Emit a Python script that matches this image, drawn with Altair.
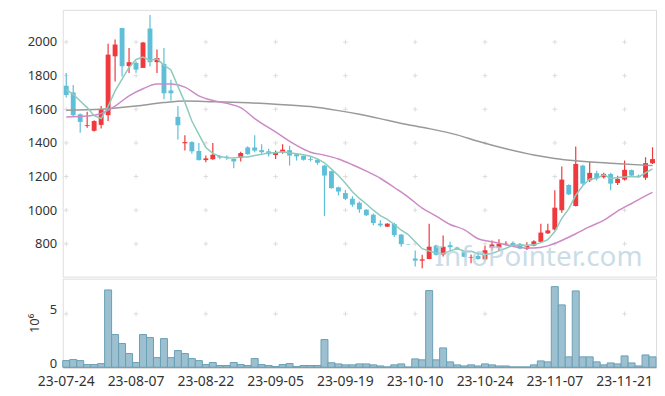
import altair as alt
import pandas as pd

dates = [
    "23-07-24", "23-07-25", "23-07-26", "23-07-27", "23-07-28", "23-07-31",
    "23-08-01", "23-08-02", "23-08-03", "23-08-04",
    "23-08-07", "23-08-08", "23-08-09", "23-08-10", "23-08-11",
    "23-08-14", "23-08-16", "23-08-17", "23-08-18",
    "23-08-21", "23-08-22", "23-08-23", "23-08-24", "23-08-25",
    "23-08-28", "23-08-29", "23-08-30", "23-08-31", "23-09-01",
    "23-09-04", "23-09-05", "23-09-06", "23-09-07", "23-09-08",
    "23-09-11", "23-09-12", "23-09-13", "23-09-14", "23-09-15",
    "23-09-18", "23-09-19", "23-09-20", "23-09-21", "23-09-22",
    "23-09-25", "23-09-26", "23-09-27",
    "23-10-04", "23-10-05", "23-10-06",
    "23-10-10", "23-10-11", "23-10-12", "23-10-13",
    "23-10-16", "23-10-17", "23-10-18", "23-10-19", "23-10-20",
    "23-10-23", "23-10-24", "23-10-25", "23-10-26", "23-10-27",
    "23-10-30", "23-10-31", "23-11-01", "23-11-02", "23-11-03",
    "23-11-06", "23-11-07", "23-11-08", "23-11-09", "23-11-10",
    "23-11-13", "23-11-14", "23-11-15", "23-11-16", "23-11-17",
    "23-11-20", "23-11-21", "23-11-22", "23-11-23", "23-11-24",
    "23-11-27",
]

opens = [1740, 1700, 1570, 1500, 1472, 1507, 1565, 1915, 2083, 1857,
         1876, 1846, 2080, 1880, 1870, 1712, 1555, 1398, 1405, 1352,
         1298, 1303, 1322, 1318, 1305, 1310, 1373, 1373, 1357, 1350,
         1328, 1344, 1357, 1333, 1323, 1305, 1300, 1265, 1232, 1136,
         1102, 1068, 1044, 1003, 973, 920, 902, 918, 855, 797,
         713, 700, 710, 790, 737, 792, 778, 755, 718, 728,
         708, 777, 777, 800, 806, 800, 770, 790, 812, 862,
         885, 1000, 1150, 1025, 1265, 1178, 1220, 1196, 1215, 1162,
         1182, 1238, 1205, 1193, 1279]
highs = [1815, 1745, 1575, 1585, 1535, 1620, 1990, 2015, 2085, 1965,
         1885, 2000, 2160, 1955, 1965, 1775, 1620, 1445, 1410, 1400,
         1325, 1400, 1328, 1325, 1308, 1348, 1380, 1445, 1392, 1365,
         1355, 1392, 1383, 1340, 1325, 1320, 1305, 1270, 1235, 1140,
         1120, 1083, 1052, 1005, 980, 940, 922, 925, 858, 798,
         760, 735, 920, 795, 850, 812, 782, 758, 737, 752,
         788, 820, 828, 815, 815, 805, 810, 822, 920, 920,
         1118, 1260, 1155, 1378, 1270, 1290, 1235, 1222, 1222, 1205,
         1295, 1242, 1212, 1315, 1374]
lows = [1670, 1560, 1460, 1490, 1468, 1485, 1530, 1765, 1795, 1815,
        1817, 1845, 1855, 1815, 1660, 1650, 1420, 1355, 1335, 1295,
        1285, 1300, 1303, 1300, 1250, 1290, 1330, 1345, 1335, 1320,
        1305, 1335, 1265, 1295, 1295, 1290, 1270, 965, 1128, 1088,
        1060, 1020, 985, 965, 910, 900, 900, 840, 783, 793,
        665, 655, 708, 730, 725, 755, 765, 720, 685, 705,
        703, 762, 758, 790, 785, 768, 763, 785, 810, 860,
        880, 985, 1090, 1022, 1150, 1168, 1176, 1188, 1118, 1150,
        1176, 1200, 1192, 1180, 1275]
closes = [1685, 1565, 1525, 1505, 1530, 1600, 1925, 1985, 1856, 1880,
          1836, 1997, 1880, 1905, 1695, 1695, 1505, 1405, 1350, 1298,
          1308, 1330, 1313, 1310, 1290, 1340, 1333, 1354, 1345, 1333,
          1344, 1360, 1325, 1320, 1300, 1300, 1282, 1206, 1131, 1111,
          1068, 1033, 1005, 970, 924, 910, 920, 852, 798, 795,
          700, 708, 783, 735, 783, 780, 770, 723, 722, 710,
          762, 796, 800, 802, 793, 772, 790, 815, 867, 880,
          1015, 1182, 1094, 1275, 1158, 1222, 1190, 1216, 1158, 1186,
          1240, 1206, 1198, 1280, 1304]
volume_m = [0.62, 0.72, 0.62, 0.25, 0.25, 0.34, 7.24, 3.06, 2.22, 1.28,
            0.44, 3.06, 2.78, 0.90, 2.68, 0.90, 1.56, 1.28, 0.81, 0.62,
            0.25, 0.44, 0.16, 0.16, 0.44, 0.25, 0.16, 0.81, 0.25, 0.16,
            0.06, 0.25, 0.34, 0.06, 0.16, 0.16, 0.16, 2.59, 0.42, 0.31,
            0.22, 0.22, 0.31, 0.31, 0.22, 0.12, 0.03, 0.22, 0.31, 0.02,
            0.78, 0.69, 7.18, 0.69, 1.81, 0.50, 0.22, 0.12, 0.22, 0.12,
            0.31, 0.22, 0.12, 0.12, 0.03, 0.03, 0.03, 0.22, 0.59, 0.50,
            7.55, 5.84, 0.97, 7.15, 0.97, 0.97, 0.50, 0.22, 0.40, 0.31,
            1.06, 0.40, 0.12, 1.15, 0.97]
ma5 = [1718, 1689, 1649, 1610, 1562, 1545, 1617, 1709, 1779, 1849,
       1896, 1911, 1890, 1900, 1863, 1834, 1736, 1641, 1530, 1451,
       1373, 1338, 1320, 1312, 1310, 1317, 1317, 1325, 1332, 1341,
       1342, 1347, 1341, 1336, 1330, 1321, 1305, 1282, 1244, 1206,
       1160, 1110, 1070, 1037, 1000, 968, 946, 915, 881, 855,
       813, 771, 757, 744, 742, 758, 770, 758, 756, 741,
       737, 743, 758, 774, 791, 793, 791, 794, 807, 825,
       873, 952, 1008, 1089, 1145, 1186, 1188, 1212, 1189, 1194,
       1198, 1201, 1198, 1222, 1246]
ma20_days = [0, 3, 5, 7, 9, 11, 13, 15, 17, 19, 21, 23, 25, 27, 30, 33, 35,
             37, 39, 41, 43, 45, 47, 49, 51, 53, 55, 57, 59, 61, 63, 65, 67,
             69, 71, 73, 75, 77, 79, 81, 83, 84]
ma20_vals = [1554, 1560, 1575, 1619, 1680, 1722, 1750, 1750, 1732, 1680,
             1652, 1635, 1610, 1545, 1465, 1385, 1345, 1327, 1304, 1270,
             1232, 1190, 1135, 1078, 1012, 965, 915, 885, 830, 812,
             795, 778, 775, 788, 820, 860, 902, 940, 995, 1040, 1085, 1106]
ma60_days = [0, 5, 10, 14, 17, 21, 25, 30, 35, 39, 42, 46, 49, 52, 56, 59,
             63, 67, 70, 73, 78, 84]
ma60_vals = [1594, 1600, 1619, 1640, 1649, 1645, 1640, 1630, 1616, 1592,
             1570, 1535, 1508, 1485, 1448, 1410, 1365, 1328, 1308, 1294,
             1279, 1265]

label_dates = dates[0::10]
price_ticks = [800, 1000, 1200, 1400, 1600, 1800, 2000]
vol_ticks = [0, 5]

RED = "#f0393d"
BLUE = "#5fbfd9"
FONT = "Noto Sans"

df = pd.DataFrame({"date": dates, "open": opens, "high": highs, "low": lows,
                   "close": closes, "volume": volume_m, "ma5": ma5})
df["dir"] = ["up" if c >= o else "down" for o, c in zip(opens, closes)]
ma20_df = pd.DataFrame({"date": [dates[i] for i in ma20_days], "value": ma20_vals})
ma60_df = pd.DataFrame({"date": [dates[i] for i in ma60_days], "value": ma60_vals})
cross_price = pd.DataFrame([(d, v) for d in label_dates for v in price_ticks],
                           columns=["date", "value"])
cross_vol = pd.DataFrame([(d, v) for d in label_dates for v in [5]],
                         columns=["date", "value"])

xscale = alt.Scale(type="band", domain=dates, paddingInner=0, paddingOuter=0)
x_top = alt.X("date:N", scale=xscale, axis=None)
pscale = alt.Scale(domain=[605, 2191], nice=False, zero=False)
paxis = alt.Axis(values=price_ticks, format="d", title=None, grid=False, ticks=False,
                 domain=False, labelFont=FONT, labelFontSize=13,
                 labelColor="#333333", labelPadding=6)
color = alt.Color("dir:N", scale=alt.Scale(domain=["up", "down"], range=[RED, BLUE]),
                  legend=None)

W = 596
crosses_p = alt.Chart(cross_price).mark_point(
    shape="M-1,0H1M0,-1V1", size=22, stroke="#dddddd", strokeWidth=1, filled=False, opacity=1
).encode(x=x_top, y=alt.Y("value:Q", scale=pscale, axis=paxis))

wicks = alt.Chart(df).mark_rule(strokeWidth=1.2).encode(
    x=x_top, y=alt.Y("low:Q", scale=pscale, axis=paxis), y2="high:Q", color=color)
bodies = alt.Chart(df).mark_bar(width=alt.RelativeBandSize(0.7), minBandSize=1.5).encode(
    x=x_top, y=alt.Y("open:Q", scale=pscale, axis=paxis), y2="close:Q", color=color)

line60 = alt.Chart(ma60_df).mark_line(color="#999999", strokeWidth=1.5, interpolate="monotone").encode(
    x=x_top, y=alt.Y("value:Q", scale=pscale, axis=paxis))
line20 = alt.Chart(ma20_df).mark_line(color="#cc8ac6", strokeWidth=1.5, interpolate="monotone").encode(
    x=x_top, y=alt.Y("value:Q", scale=pscale, axis=paxis))
line5 = alt.Chart(df).mark_line(color="#8ccbbd", strokeWidth=1.5).encode(
    x=x_top, y=alt.Y("ma5:Q", scale=pscale, axis=paxis))

wm = alt.Chart(pd.DataFrame({"t": ["InfoPointer.com"]})).mark_text(
    font=FONT, fontSize=28, color="#b9d2e0", opacity=0.75, align="center", baseline="alphabetic"
).encode(text="t:N", x=alt.value(478), y=alt.value(257))

price = alt.layer(crosses_p, wicks, bodies, line60, line20, line5, wm).properties(
    width=W, height=268)

x_bot = alt.X("date:N", scale=xscale,
              axis=alt.Axis(values=label_dates, title=None, labelAngle=0, ticks=False,
                            domain=True, domainColor="#888888", grid=False,
                            labelFont=FONT, labelFontSize=14, labelColor="#333333",
                            labelPadding=7, labelOverlap=False, labelFlush=False))
vscale = alt.Scale(domain=[0, 8.3], nice=False)
vaxis = alt.Axis(values=vol_ticks, format="d", title="10⁶", grid=False, ticks=False, domain=False,
                 labelFont=FONT, labelFontSize=13, labelColor="#333333", labelPadding=6,
                 labelOffset=-4,
                 titleFont=FONT, titleFontSize=13, titleFontWeight="normal",
                 titleColor="#333333", titlePadding=8)
crosses_v = alt.Chart(cross_vol).mark_point(
    shape="M-1,0H1M0,-1V1", size=22, stroke="#dddddd", strokeWidth=1, filled=False, opacity=1
).encode(x=x_bot, y=alt.Y("value:Q", scale=vscale, axis=vaxis))
vbars = alt.Chart(df).mark_bar(fill="#9cc0d0", stroke="#6a9fb5", strokeWidth=1).encode(
    x=x_bot, y=alt.Y("volume:Q", scale=vscale, axis=vaxis))
vol = alt.layer(crosses_v, vbars).properties(width=W, height=89)

chart = alt.vconcat(price, vol, spacing=0).properties(
    padding={"left": 18, "top": 0, "right": 0, "bottom": 0}
).configure_view(stroke="#e3e3e3").configure(background="white")

chart.save("out.html", embed_options={"renderer": "svg", "actions": False})
